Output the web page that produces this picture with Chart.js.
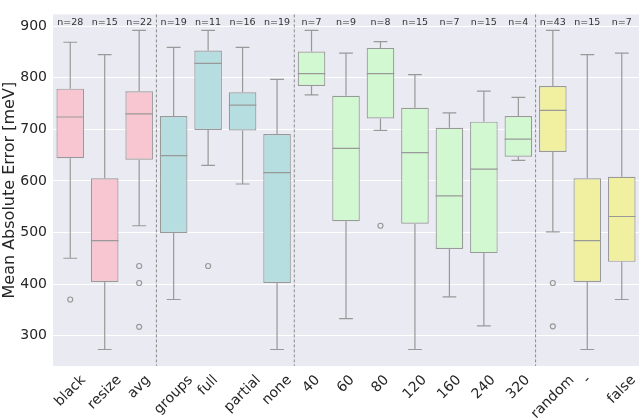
<!DOCTYPE html>
<html>
<head>
<meta charset="utf-8">
<script src="https://cdn.jsdelivr.net/npm/chart.js@4.4.1/dist/chart.umd.min.js"></script>
<style>
  body { margin: 0; background: #ffffff; }
</style>
</head>
<body>
<canvas id="chart" width="641" height="419"></canvas>
<script>
const categories = ["black", "resize", "avg", "groups", "full", "partial", "none",
    "40", "60", "80", "120", "160", "240", "320", "random", "-", "false"];
const groupOf = [0, 0, 0, 1, 1, 1, 1, 2, 2, 2, 2, 2, 2, 2, 3, 3, 3];
const counts = [28, 15, 22, 19, 11, 16, 19, 7, 9, 8, 15, 7, 15, 4, 43, 15, 7];

const whiskerLow  = [450, 273, 513, 370, 630, 594, 273, 767, 333, 698, 273, 375, 319, 640, 501, 273, 370];
const q1          = [644, 404, 641, 499, 699, 698, 402, 784, 522, 721, 517, 468, 460, 647, 656, 404, 443];
const median      = [724, 484, 730, 649, 828, 747, 616, 808, 663, 808, 655, 571, 623, 681, 737, 484, 531];
const q3          = [779, 605, 774, 726, 853, 772, 691, 851, 765, 858, 742, 703, 715, 726, 784, 605, 608];
const whiskerHigh = [869, 845, 892, 859, 892, 859, 797, 892, 848, 870, 806, 732, 774, 762, 892, 845, 848];
const outliers = [[370], [], [435, 402, 317], [], [435], [], [], [], [], [513], [], [], [], [], [402, 318], [], []];

const groupColors = ["#f8c6d0", "#b6dde0", "#d2f8d2", "#f0f0a0"];
const lineGray = "#999999";
const textColor = "#262626";

// background + separators, drawn under the boxes
const backdrop = {
    id: "backdrop",
    beforeDraw(chart) {
        const { ctx, chartArea: a } = chart;
        ctx.save();
        ctx.fillStyle = "#eaeaf2";
        ctx.fillRect(a.left, a.top, a.right - a.left, a.bottom - a.top);
        ctx.restore();
    },
    beforeDatasetsDraw(chart) {
        const { ctx, chartArea: a, scales } = chart;
        const x = scales.x;
        ctx.save();
        ctx.strokeStyle = "#8a8a8a";
        ctx.lineWidth = 1;
        ctx.setLineDash([3, 2]);
        for (let i = 1; i < categories.length; i++) {
            if (groupOf[i] !== groupOf[i - 1]) {
                const px = (x.getPixelForValue(i - 1) + x.getPixelForValue(i)) / 2;
                ctx.beginPath();
                ctx.moveTo(px, a.top);
                ctx.lineTo(px, a.bottom);
                ctx.stroke();
            }
        }
        ctx.restore();
    }
};

// whiskers, medians, fliers, n= labels, x labels
const boxParts = {
    id: "boxParts",
    afterDatasetsDraw(chart) {
        const { ctx, scales } = chart;
        const x = scales.x, y = scales.y;
        const step = x.getPixelForValue(1) - x.getPixelForValue(0);
        const half = step * 0.8 / 2;
        ctx.save();
        ctx.strokeStyle = lineGray;
        ctx.lineWidth = 1.2;
        categories.forEach((c, i) => {
            const cx = x.getPixelForValue(i);
            const yl = y.getPixelForValue(whiskerLow[i]);
            const yh = y.getPixelForValue(whiskerHigh[i]);
            const y1 = y.getPixelForValue(q1[i]);
            const y3 = y.getPixelForValue(q3[i]);
            const ym = y.getPixelForValue(median[i]);
            ctx.beginPath();
            ctx.moveTo(cx, y1); ctx.lineTo(cx, yl);
            ctx.moveTo(cx, y3); ctx.lineTo(cx, yh);
            ctx.moveTo(cx - half / 2, yl); ctx.lineTo(cx + half / 2, yl);
            ctx.moveTo(cx - half / 2, yh); ctx.lineTo(cx + half / 2, yh);
            ctx.moveTo(cx - half, ym); ctx.lineTo(cx + half, ym);
            ctx.stroke();
            outliers[i].forEach(v => {
                ctx.beginPath();
                ctx.arc(cx, y.getPixelForValue(v), 2.5, 0, Math.PI * 2);
                ctx.stroke();
            });
        });
        ctx.restore();
    },
    afterDraw(chart) {
        const { ctx, chartArea: a, scales } = chart;
        const x = scales.x;
        ctx.save();
        ctx.fillStyle = "#333333";
        ctx.font = "9.5px 'DejaVu Sans'";
        ctx.textAlign = "center";
        ctx.textBaseline = "middle";
        categories.forEach((c, i) => {
            ctx.fillText("n=" + counts[i], x.getPixelForValue(i), a.top + 8);
        });

        ctx.fillStyle = textColor;
        ctx.font = "14px 'DejaVu Sans'";
        categories.forEach((c, i) => {
            const w = ctx.measureText(c).width;
            const h = 14;
            const cy = a.bottom + 7 + (w + h) * 0.7071 / 2;
            ctx.save();
            ctx.translate(x.getPixelForValue(i), cy);
            ctx.rotate(-Math.PI / 4);
            ctx.fillText(c, 0, 0);
            ctx.restore();
        });
        ctx.restore();
    }
};

new Chart(document.getElementById("chart"), {
    type: "bar",
    data: {
        labels: categories,
        datasets: [{
            data: categories.map((c, i) => [q1[i], q3[i]]),
            backgroundColor: groupOf.map(g => groupColors[g]),
            borderColor: lineGray,
            borderWidth: 1.2,
            borderSkipped: false,
            barPercentage: 0.8,
            categoryPercentage: 1.0
        }]
    },
    options: {
        responsive: false,
        animation: false,
        layout: { padding: { top: 1, right: 2, left: 0, bottom: 0 } },
        plugins: { legend: { display: false }, tooltip: { enabled: false } },
        scales: {
            x: {
                grid: { display: false },
                border: { display: false },
                ticks: { display: false },
                afterFit(scale) { scale.height = 53; }
            },
            y: {
                min: 241,
                max: 923,
                grid: { color: "#ffffff", lineWidth: 1, drawTicks: false },
                border: { display: false },
                afterBuildTicks(scale) {
                    scale.ticks = [300, 400, 500, 600, 700, 800, 900].map(v => ({ value: v }));
                },
                ticks: {
                    color: textColor,
                    font: { family: "'DejaVu Sans'", size: 14 },
                    padding: 6
                },
                title: {
                    display: true,
                    text: "Mean Absolute Error [meV]",
                    color: textColor,
                    font: { family: "'DejaVu Sans'", size: 16 },
                    padding: { top: 0, bottom: 0 }
                },
                afterFit(scale) { scale.width = 53; }
            }
        }
    },
    plugins: [backdrop, boxParts]
});
</script>
</body>
</html>
